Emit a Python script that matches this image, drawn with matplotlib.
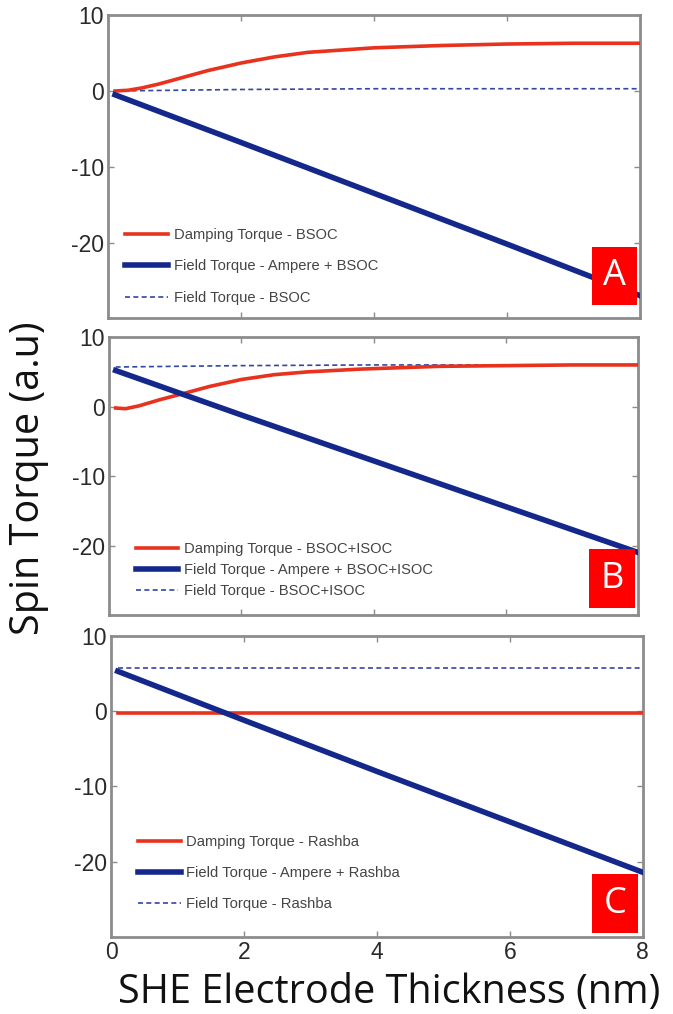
import matplotlib
matplotlib.use("Agg")
import matplotlib.pyplot as plt
from matplotlib.patches import Rectangle

plt.rcParams['font.family'] = ['Liberation Sans', 'DejaVu Sans']

# Panel A - bulk spin-orbit coupling
a_damp_x = [0.1, 0.3, 0.5, 0.75, 1.0, 1.5, 2.0, 2.5, 3.0, 4.0, 5.0, 6.0, 7.0, 8.0]
a_damp_y = [0.0, 0.1, 0.4, 0.9, 1.5, 2.7, 3.7, 4.5, 5.1, 5.7, 6.0, 6.2, 6.3, 6.3]
a_field_x = [0.1, 2.0, 4.0, 6.0, 8.0]
a_field_y = [-0.5, -6.8, -13.5, -20.2, -27.0]
a_dash_x = [0.1, 1.0, 2.0, 4.0, 6.0, 8.0]
a_dash_y = [0.0, 0.1, 0.2, 0.3, 0.3, 0.3]

# Panel B - bulk + interface spin-orbit coupling
b_damp_x = [0.1, 0.25, 0.45, 0.77, 1.17, 1.52, 2.0, 2.5, 3.0, 3.8, 5.0, 6.0, 7.0, 8.0]
b_damp_y = [-0.2, -0.3, 0.1, 1.0, 2.0, 2.9, 3.9, 4.6, 5.0, 5.4, 5.8, 5.9, 6.0, 6.0]
b_field_x = [0.1, 2.0, 4.0, 6.0, 8.0]
b_field_y = [5.2, -1.2, -7.8, -14.4, -21.0]
b_dash_x = [0.1, 1.0, 2.0, 4.0, 6.0, 8.0]
b_dash_y = [5.7, 5.8, 5.9, 6.0, 6.0, 6.0]

# Panel C - Rashba
c_damp_x = [0.1, 8.0]
c_damp_y = [-0.2, -0.2]
c_field_x = [0.1, 2.0, 4.0, 6.0, 8.0]
c_field_y = [5.3, -1.2, -8.0, -14.7, -21.4]
c_dash_x = [0.1, 8.0]
c_dash_y = [5.8, 5.8]

labels_a = ['Damping Torque - BSOC', 'Field Torque - Ampere + BSOC', 'Field Torque - BSOC']
labels_b = ['Damping Torque - BSOC+ISOC', 'Field Torque - Ampere + BSOC+ISOC', 'Field Torque - BSOC+ISOC']
labels_c = ['Damping Torque - Rashba', 'Field Torque - Ampere + Rashba', 'Field Torque - Rashba']

xticks = [0, 2, 4, 6, 8]
yticks = [-30, -20, -10, 0, 10]
ytick_labels = ['', '-20', '-10', '0', '10']

red = '#e8321e'
navy = '#14288c'
dash_blue = '#3346a0'
spine_gray = '#8c8c8c'
text_gray = '#2a2a2a'

fig = plt.figure(figsize=(6.73, 10.14), dpi=100)

# axes rectangles in figure fractions (left, bottom, width, height)
rects = [
    (0.161, 0.686, 0.790, 0.299),
    (0.162, 0.3935, 0.786, 0.274),
    (0.165, 0.0759, 0.790, 0.297),
]
panels = [
    (a_damp_x, a_damp_y, a_field_x, a_field_y, a_dash_x, a_dash_y, labels_a, 'A',
     (0.910, 0.043, 0.084, 0.191), (0.012, 0.01), 1.2),
    (b_damp_x, b_damp_y, b_field_x, b_field_y, b_dash_x, b_dash_y, labels_b, 'B',
     (0.907, 0.025, 0.087, 0.212), (0.031, 0.025), 0.45),
    (c_damp_x, c_damp_y, c_field_x, c_field_y, c_dash_x, c_dash_y, labels_c, 'C',
     (0.904, 0.013, 0.088, 0.196), (0.031, 0.053), 1.15),
]

for i, (rect, p) in enumerate(zip(rects, panels)):
    dx, dy, fx, fy, hx, hy, labels, letter, box, leg_anchor, spacing = p
    ax = fig.add_axes(rect)
    ax.plot(dx, dy, color=red, lw=2.6, label=labels[0], zorder=3)
    ax.plot(fx, fy, color=navy, lw=4.0, label=labels[1], zorder=4)
    ax.plot(hx, hy, color=dash_blue, lw=1.2, ls=(0, (3, 2)), label=labels[2], zorder=2)

    ax.set_xlim(0, 8)
    ax.set_ylim(-30, 10)
    ax.set_xticks(xticks)
    ax.set_yticks(yticks)
    ax.set_yticklabels(ytick_labels)
    if i < 2:
        ax.set_xticklabels([])
    ax.tick_params(direction='in', length=4, width=1, color=spine_gray,
                   top=True, right=True, labelsize=16.5, labelcolor=text_gray, pad=3)
    for s in ax.spines.values():
        s.set_color(spine_gray)
        s.set_linewidth(2.0)

    leg = ax.legend(loc='lower left', bbox_to_anchor=leg_anchor, frameon=False,
                    fontsize=10.6, handlelength=2.9, handletextpad=0.4,
                    labelspacing=spacing, borderaxespad=0.3)
    for t in leg.get_texts():
        t.set_color('#444444')

    bx, by, bw, bh = box
    ax.add_patch(Rectangle((bx, by), bw, bh, transform=ax.transAxes,
                           facecolor='#ff0000', edgecolor='none', zorder=5))
    ax.text(bx + bw / 2, by + bh / 2, letter, transform=ax.transAxes,
            ha='center', va='center', color='white', fontsize=26,
            family=['Open Sans', 'DejaVu Sans'], zorder=6)

fig.text(0.043, 0.528, 'Spin Torque (a.u)', rotation=90, ha='center', va='center',
         fontsize=28.5, family=['Open Sans', 'DejaVu Sans'], color='#111111')
fig.text(0.578, 0.0108, 'SHE Electrode Thickness (nm)', ha='center', va='baseline',
         fontsize=28.5, family=['Open Sans', 'DejaVu Sans'], color='#111111')

fig.savefig('out.png', dpi=100)
